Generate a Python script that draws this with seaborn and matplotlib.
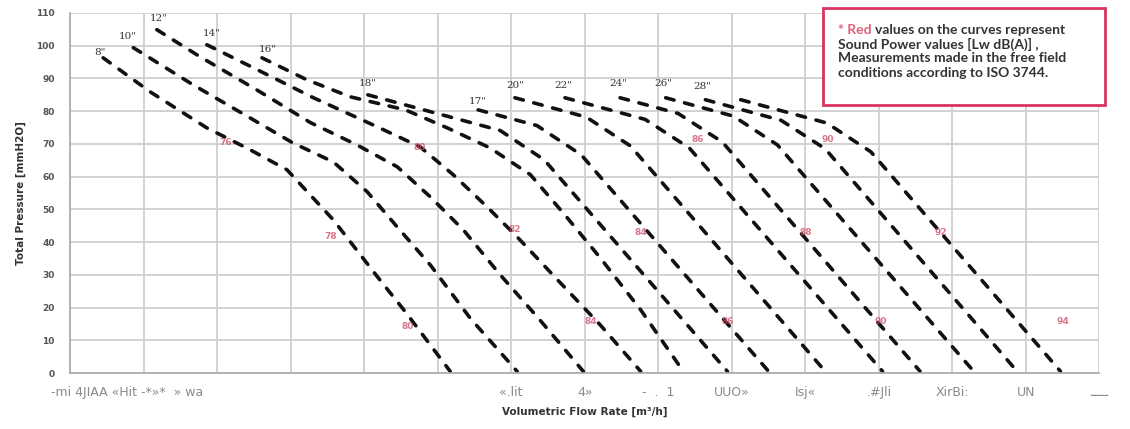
import matplotlib
matplotlib.use('Agg')
import matplotlib.pyplot as plt
import matplotlib.patches as mpatches
import pandas as pd
import seaborn as sns

# fan curves, flow in m3/h, total pressure in mmH2O
c1_x = [450, 1090, 1860, 2450, 2950, 3580, 4180, 4560, 5170]
c1_y = [96.3, 85.9, 74.9, 68.2, 62.1, 46.8, 29.4, 18.7, 0.5]
c2_x = [860, 1670, 2490, 3030, 3580, 4040, 4450, 4900, 5440, 6080]
c2_y = [99.4, 88.1, 77.4, 70.3, 64.5, 55.4, 44.6, 33.0, 16.8, 0.5]
c3_x = [1180, 1770, 2540, 3270, 3900, 4450, 4900, 5350, 5850, 6390, 6980]
c3_y = [104.9, 96.6, 86.5, 76.5, 69.7, 63.0, 53.8, 43.7, 30.0, 16.2, 0.5]
c4_x = [1860, 2490, 3310, 4180, 4760, 5210, 5670, 6080, 6670, 7210, 7760]
c4_y = [100.3, 93.3, 84.1, 75.2, 69.1, 60.6, 50.8, 41.6, 27.5, 14.7, 0.5]
c5_x = [2610, 3220, 3810, 4560, 5130, 5710, 6260, 6730, 7210, 7760, 8340]
c5_y = [96.3, 89.6, 84.4, 80.4, 74.9, 68.8, 60.6, 48.3, 35.2, 19.3, 0.5]
c6_x = [4050, 5850, 6450, 8940]
c6_y = [85.0, 74.1, 65.1, 0.5]
c7_x = [5550, 6350, 6950, 9500]
c7_y = [80.4, 75.6, 66.7, 0.5]
c8_x = [6050, 7020, 7620, 10270]
c8_y = [84.1, 78.2, 69.4, 0.5]
c9_x = [6730, 7820, 8420, 11050]
c9_y = [84.1, 77.5, 68.8, 0.5]
c10_x = [7480, 8270, 8870, 11560]
c10_y = [84.1, 79.3, 70.6, 0.5]
c11_x = [8100, 9020, 9620, 12290]
c11_y = [84.1, 78.5, 69.7, 0.5]
c12_x = [8640, 9670, 10270, 12880]
c12_y = [83.5, 77.2, 68.5, 0.5]
c13_x = [9120, 10290, 10890, 13470]
c13_y = [83.5, 76.4, 67.6, 0.5]

curve_ids = ['c1', 'c2', 'c3', 'c4', 'c5', 'c6', 'c7', 'c8', 'c9', 'c10', 'c11', 'c12', 'c13']
curve_xs = [c1_x, c2_x, c3_x, c4_x, c5_x, c6_x, c7_x, c8_x, c9_x, c10_x, c11_x, c12_x, c13_x]
curve_ys = [c1_y, c2_y, c3_y, c4_y, c5_y, c6_y, c7_y, c8_y, c9_y, c10_y, c11_y, c12_y, c13_y]

# impeller size labels
size_labels = ['8"', '10"', '12"', '14"', '16"', '18"', '17"', '20"', '22"', '24"', '26"', '28"']
size_x = [410, 790, 1200, 1930, 2690, 4050, 5550, 6050, 6710, 7460, 8070, 8600]
size_y = [97.9, 102.8, 108.3, 103.7, 98.8, 88.4, 82.9, 87.8, 87.8, 88.4, 88.4, 87.5]

# sound power values on the curves
lw_labels = ['76', '78', '80', '80', '82', '84', '84', '86', '86', '88', '90', '90', '92', '94']
lw_x = [2110, 3540, 4590, 4760, 6050, 7080, 7760, 8530, 8940, 10000, 10300, 11020, 11840, 13500]
lw_y = [70.3, 41.6, 14.1, 68.8, 43.7, 15.6, 42.8, 71.3, 15.6, 42.8, 71.3, 15.6, 42.8, 15.6]

x_ticks = list(range(0, 14001, 1000))
x_tick_labels = ['', '-mi 4JIAA «Hit -*»*  » wa        ', '', '', '', '', '«.lit', '4»', '-  .  1',
                 'UUO»', 'Isj«', '.#Jli', 'XirBi:', 'UN', 'ـــــ']
y_ticks = list(range(0, 111, 10))

note_lines = ['values on the curves represent',
              'Sound Power values [Lw dB(A)] ,',
              'Measurements made in the free field',
              'conditions according to ISO 3744.']

frames = []
for cid, xs, ys in zip(curve_ids, curve_xs, curve_ys):
    frames.append(pd.DataFrame({'flow': xs, 'pressure': ys, 'curve': cid}))
df = pd.concat(frames, ignore_index=True)

sns.set_style('white')
plt.rcParams['font.family'] = ['DejaVu Sans']

fig = plt.figure(figsize=(11.3, 4.29), dpi=100)
ax = fig.add_axes([0.062, 0.1305, 0.911, 0.8392])

sns.lineplot(data=df, x='flow', y='pressure', hue='curve', palette=['#111111'] * len(curve_ids),
             estimator=None, sort=False, legend=False, lw=2.6, ax=ax)
for line in ax.lines:
    line.set_dashes([2.4, 3.0])
    line.set_dash_capstyle('round')

for lab, x, y in zip(size_labels, size_x, size_y):
    ax.text(x, y, lab, fontsize=7.5, family='DejaVu Serif', color='#333333', ha='center', va='center')

for lab, x, y in zip(lw_labels, lw_x, lw_y):
    ax.text(x, y, lab, fontsize=6.5, color='#cc4a66', alpha=0.75, ha='center', va='center', fontweight='bold')

ax.set_xlim(0, 14000)
ax.set_ylim(0, 110)
ax.set_xticks(x_ticks)
ax.set_xticklabels(x_tick_labels, fontsize=9, color='#8a8a8a')
ax.set_yticks(y_ticks)
ax.set_yticklabels([str(v) for v in y_ticks], fontsize=6.5, fontweight='bold', color='#555555')
ax.tick_params(axis='both', length=0)
ax.tick_params(axis='x', pad=9)
ax.tick_params(axis='y', pad=11)
ax.grid(True, color='#cfcfcf', lw=1.3)
for side in ['top', 'right']:
    ax.spines[side].set_visible(False)
for side in ['left', 'bottom']:
    ax.spines[side].set_color('#a8a8a8')
    ax.spines[side].set_linewidth(1.2)

ax.set_xlabel('Volumetric Flow Rate [m³/h]', fontsize=7.5, fontweight='bold', color='#333333', labelpad=6)
ax.set_ylabel('Total Pressure [mmH2O]', fontsize=7.5, fontweight='bold', color='#333333', labelpad=7)

# note box
box = mpatches.Rectangle((0.731, 0.744), 0.274, 0.27, transform=ax.transAxes, facecolor='white',
                         edgecolor='#d9335f', lw=2, clip_on=False, zorder=5)
ax.add_patch(box)
note_font = dict(fontsize=10, fontweight='bold', family='Lato', va='center', zorder=6)
first = ax.text(0.7456, 0.9528, '* Red ', transform=ax.transAxes, color='#e0607a', **note_font)
fig.canvas.draw()
bb = first.get_window_extent().transformed(ax.transAxes.inverted())
ax.text(bb.x1, 0.9528, note_lines[0], transform=ax.transAxes, color='#333333', **note_font)
for line_text, yy in zip(note_lines[1:], [0.914, 0.875, 0.833]):
    ax.text(0.7456, yy, line_text, transform=ax.transAxes, color='#333333', **note_font)

fig.savefig('out.png', dpi=100)
